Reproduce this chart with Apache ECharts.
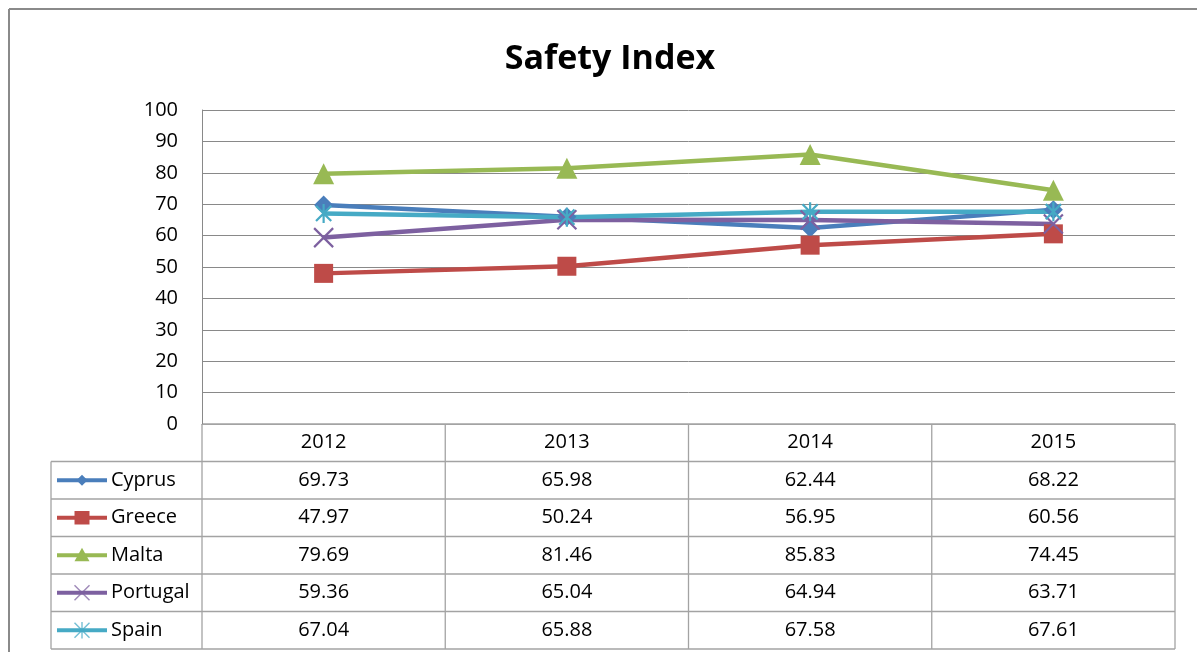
<!DOCTYPE html>
<html><head><meta charset="utf-8">
<script src="https://cdn.jsdelivr.net/npm/echarts@6/dist/echarts.min.js"></script>
<style>html,body{margin:0;padding:0;background:#fff}#c{width:1197px;height:652px}</style>
</head><body><div id="c"></div>
<script>
// ---- data ----
const categories = ['2012', '2013', '2014', '2015'];
const seriesNames = ['Cyprus', 'Greece', 'Malta', 'Portugal', 'Spain'];
const cyprus   = [69.73, 65.98, 62.44, 68.22];
const greece   = [47.97, 50.24, 56.95, 60.56];
const malta    = [79.69, 81.46, 85.83, 74.45];
const portugal = [59.36, 65.04, 64.94, 63.71];
const spain    = [67.04, 65.88, 67.58, 67.61];
const seriesValues = [cyprus, greece, malta, portugal, spain];
const titleText = 'Safety Index';

// ---- styles ----
const colors = ['#4A7EBB', '#BE4B48', '#98B954', '#7D60A0', '#46AAC5'];
const symbolKinds = ['diamond', 'rect', 'triangle', 'x', 'star'];
const symbolPaths = {
  diamond: 'M5,0 L10,5 L5,10 L0,5 Z',
  rect: 'M0,0 L10,0 L10,10 L0,10 Z',
  triangle: 'M5,0 L10,10 L0,10 Z',
  x: 'M0,0 L10,10 M10,0 L0,10',
  star: 'M1,1 L9,9 M9,1 L1,9 M5,0 L5,10'
};
const FONT = '"Open Sans", "Liberation Sans", sans-serif';
const GRID_COLOR = '#898989';
const TABLE_COLOR = '#a3a3a3';

const chart = echarts.init(document.getElementById('c'), null, {renderer: 'canvas'});

const isStroke = k => k === 'x' || k === 'star';

const series = seriesNames.map((name, i) => {
  const kind = symbolKinds[i];
  return {
    name: name,
    type: 'line',
    data: seriesValues[i],
    symbol: 'path://' + symbolPaths[kind],
    symbolSize: kind === 'triangle' ? 21 : (kind === 'rect' ? 19 : 19),
    symbolKeepAspect: true,
    lineStyle: {color: colors[i], width: 4.5},
    itemStyle: isStroke(kind)
      ? {color: 'rgba(0,0,0,0)', borderColor: colors[i], borderWidth: 2.2}
      : {color: colors[i], borderWidth: 0},
    emphasis: {disabled: true},
    animation: false
  };
});

chart.setOption({
  backgroundColor: '#fff',
  animation: false,
  title: {
    text: titleText, left: 605, top: 37, textAlign: 'center',
    textStyle: {fontFamily: FONT, fontSize: 34, fontWeight: 'bold', color: '#000'}
  },
  grid: {left: 202, right: 22, top: 110, bottom: 228},
  xAxis: {
    type: 'category', data: categories, boundaryGap: true,
    axisLine: {show: true, lineStyle: {color: TABLE_COLOR, width: 1}},
    axisTick: {show: false}, axisLabel: {show: false}, splitLine: {show: false}
  },
  yAxis: {
    type: 'value', min: 0, max: 100, interval: 10,
    axisLine: {show: true, lineStyle: {color: GRID_COLOR, width: 1}},
    axisTick: {show: false},
    axisLabel: {fontFamily: FONT, fontSize: 20, color: '#000', margin: 24},
    splitLine: {lineStyle: {color: GRID_COLOR, width: 1}}
  },
  series: series
});

// legend glyph built from simple graphic shapes
function glyph(kind, cx, cy, s, color) {
  const h = s / 2;
  if (kind === 'diamond') return [{type: 'polygon', shape: {points: [[cx, cy - h], [cx + h, cy], [cx, cy + h], [cx - h, cy]]}, style: {fill: color}}];
  if (kind === 'rect') return [{type: 'rect', shape: {x: cx - h, y: cy - h * 0.9, width: s, height: s * 0.9}, style: {fill: color}}];
  if (kind === 'triangle') return [{type: 'polygon', shape: {points: [[cx, cy - h], [cx + h, cy + h * 0.8], [cx - h, cy + h * 0.8]]}, style: {fill: color}}];
  const st = {stroke: color, lineWidth: 1.4, opacity: 0.75};
  const out = [
    {type: 'line', shape: {x1: cx - h, y1: cy - h, x2: cx + h, y2: cy + h}, style: st},
    {type: 'line', shape: {x1: cx + h, y1: cy - h, x2: cx - h, y2: cy + h}, style: st}
  ];
  if (kind === 'star') out.push({type: 'line', shape: {x1: cx, y1: cy - h * 1.1, x2: cx, y2: cy + h * 1.1}, style: st});
  return out;
}

// ---- data table drawn from the axes ----
function buildTable() {
  const c0 = chart.convertToPixel({xAxisIndex: 0}, categories[0]);
  const c1 = chart.convertToPixel({xAxisIndex: 0}, categories[1]);
  const colW = c1 - c0;
  const xStart = c0 - colW / 2;
  const xEnd = xStart + colW * categories.length;
  const yTop = chart.convertToPixel({yAxisIndex: 0}, 0);
  const rowH = 37.5;
  const legendLeft = 51;
  const nRows = seriesNames.length;
  const yBottom = yTop + rowH * (nRows + 1);
  const els = [];
  const ls = {stroke: TABLE_COLOR, lineWidth: 1.3};
  els.push({type: 'line', shape: {x1: 9, y1: 9, x2: 1197, y2: 9}, style: {stroke: '#8a8a8a', lineWidth: 2}});
  els.push({type: 'line', shape: {x1: 9, y1: 9, x2: 9, y2: 652}, style: {stroke: '#8a8a8a', lineWidth: 2}});
  for (let r = 1; r <= nRows + 1; r++) {
    const y = yTop + rowH * r;
    els.push({type: 'line', shape: {x1: legendLeft, y1: y, x2: xEnd, y2: y}, style: ls});
  }
  els.push({type: 'line', shape: {x1: xStart, y1: yTop, x2: xEnd, y2: yTop}, style: ls});
  els.push({type: 'line', shape: {x1: legendLeft, y1: yTop + rowH, x2: legendLeft, y2: yBottom}, style: ls});
  for (let k = 0; k <= categories.length; k++) {
    const x = xStart + colW * k;
    els.push({type: 'line', shape: {x1: x, y1: yTop, x2: x, y2: yBottom}, style: ls});
  }
  categories.forEach((cat, k) => {
    els.push({type: 'text', x: xStart + colW * (k + 0.5), y: yTop + rowH / 2,
      style: {text: cat, fontFamily: FONT, fontSize: 20, fill: '#000', align: 'center', verticalAlign: 'middle'}});
  });
  seriesNames.forEach((name, i) => {
    const yc = yTop + rowH * (i + 1.5);
    els.push({type: 'line', shape: {x1: legendLeft + 6, y1: yc, x2: legendLeft + 56, y2: yc},
      style: {stroke: colors[i], lineWidth: 4}});
    const kind = symbolKinds[i];
    const sz = kind === 'diamond' ? 11 : 15;
    glyph(kind, legendLeft + 31, yc, sz, colors[i]).forEach(e => els.push(e));
    els.push({type: 'text', x: legendLeft + 60, y: yc,
      style: {text: name, fontFamily: FONT, fontSize: 20, fill: '#000', align: 'left', verticalAlign: 'middle'}});
    seriesValues[i].forEach((v, k) => {
      els.push({type: 'text', x: xStart + colW * (k + 0.5), y: yc,
        style: {text: v.toFixed(2), fontFamily: FONT, fontSize: 20, fill: '#000', align: 'center', verticalAlign: 'middle'}});
    });
  });
  chart.setOption({graphic: {elements: els}});
}
buildTable();
</script>
</body></html>
